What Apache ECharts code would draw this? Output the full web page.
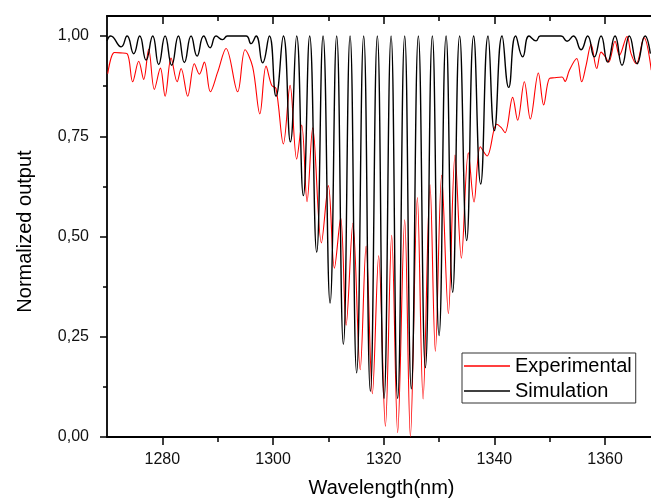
<!DOCTYPE html>
<html>
<head>
<meta charset="utf-8">
<script src="https://cdn.jsdelivr.net/npm/echarts@6/dist/echarts.min.js"></script>
<style>
html, body { margin: 0; padding: 0; background: #fff; }
#chart { width: 651px; height: 503px; }
</style>
</head>
<body>
<div id="chart"></div>
<script>
// wavelength (nm), normalized output (turning points)
var simulation = [
    [1270.00, .988], [1270.67, 1.0], [1272.55, .973], [1273.63, 1.0], [1274.82, .956], [1275.91, 1.0],
    [1277.06, .940], [1278.26, 1.0], [1279.34, .929], [1280.50, 1.0], [1281.69, .927], [1282.90, 1.0],
    [1283.98, .934], [1285.19, 1.0], [1286.28, .950], [1287.47, 1.0], [1288.63, .971], [1289.71, 1.0],
    [1290.90, .991], [1291.75, 1.0], [1295.13, 1.0], [1296.03, .981], [1296.94, 1.0], [1298.13, .933],
    [1299.34, 1.0], [1300.55, .850], [1301.87, 1.0], [1303.14, .736], [1304.27, 1.0], [1305.48, .602],
    [1306.62, 1.0], [1307.89, .461], [1309.04, 1.0], [1310.31, .334], [1311.50, 1.0], [1312.71, .231],
    [1313.92, 1.0], [1315.11, .160], [1316.38, 1.0], [1317.59, .114], [1318.85, 1.0], [1320.06, .096],
    [1321.33, 1.0], [1322.52, .096], [1323.79, 1.0], [1324.99, .120], [1326.26, 1.0], [1327.53, .173],
    [1328.79, 1.0], [1330.00, .253], [1331.27, 1.0], [1332.46, .361], [1333.72, 1.0], [1334.99, .490],
    [1336.25, 1.0], [1337.52, .631], [1338.85, 1.0], [1339.99, .764], [1341.38, 1.0], [1342.58, .872],
    [1343.84, 1.0], [1345.11, .948], [1346.26, 1.0], [1347.52, .988], [1348.30, 1.0], [1352.04, 1.0],
    [1353.13, .987], [1354.27, 1.0], [1355.66, .966], [1356.85, 1.0], [1358.06, .948], [1359.27, 1.0],
    [1360.46, .935], [1361.80, 1.0], [1363.06, .927], [1364.38, 1.0], [1365.77, .931], [1367.22, 1.0],
    [1368.18, .956]
];

var experimental = [
    [1270.13, .906], [1271.34, .959], [1272.42, .958], [1273.63, .956], [1274.64, .886], [1275.73, .937],
    [1276.63, .892], [1277.53, .967], [1278.56, .867], [1279.65, .920], [1280.50, .850], [1281.58, .945],
    [1282.67, .886], [1283.39, .919], [1284.58, .850], [1285.79, .931], [1286.69, .905], [1287.60, .935],
    [1288.68, .861], [1290.00, .910], [1291.52, .969], [1293.61, .861], [1294.95, .966], [1296.32, .923],
    [1297.62, .806], [1298.74, .925], [1299.76, .877], [1300.55, .869], [1301.87, .731], [1303.08, .877],
    [1304.27, .693], [1305.18, .778], [1306.15, .587], [1307.17, .771], [1308.74, .484], [1310.00, .627],
    [1311.09, .421], [1312.22, .547], [1313.21, .279], [1314.43, .533], [1315.75, .168], [1316.81, .476],
    [1317.95, .108], [1319.09, .452], [1320.30, .027], [1321.44, .503], [1322.52, .011], [1323.79, .542],
    [1324.82, .001], [1326.08, .597], [1327.11, .095], [1328.37, .629], [1329.33, .214], [1330.47, .653],
    [1331.68, .308], [1332.89, .703], [1334.03, .446], [1335.29, .709], [1336.32, .586], [1337.46, .724],
    [1338.67, .701], [1340.41, .780], [1341.20, .772], [1341.92, .759], [1343.30, .847], [1344.20, .790],
    [1345.41, .886], [1346.49, .793], [1347.94, .908], [1348.90, .828], [1349.93, .894], [1350.83, .896],
    [1352.22, .898], [1352.77, .887], [1353.55, .915], [1354.87, .944], [1355.77, .886], [1356.57, .927],
    [1357.47, .979], [1358.49, .919], [1359.28, .960], [1360.05, .948], [1360.65, .935], [1361.80, .987],
    [1362.58, .952], [1363.97, .999], [1364.69, .956], [1365.64, .931], [1367.03, .996], [1368.35, .915]
];

var xMajor = [1280, 1300, 1320, 1340, 1360];
var xMinor = [1290, 1310, 1330, 1350];
var yMajor = [0, 0.25, 0.5, 0.75, 1];
var yMinor = [0.125, 0.375, 0.625, 0.875];

var FONT = '"Liberation Sans", Arial, sans-serif';
var X_MIN = 1270, X_MAX = 1369.2, Y_MIN = 0, Y_MAX = 1.05;

var myChart = echarts.init(document.getElementById('chart'), null, {renderer: 'canvas'});

function xAx(pos, ticks, len, inside, main) {
    return {
        type: 'value', position: pos, min: X_MIN, max: X_MAX,
        axisLine: {show: main, onZero: false, lineStyle: {color: '#000', width: 1.8}},
        axisTick: {show: true, customValues: ticks, length: len, inside: inside,
            lineStyle: {color: '#000', width: 1.5}},
        axisLabel: {show: main && pos === 'bottom', customValues: ticks, margin: 15,
            color: '#111', fontSize: 16, fontFamily: FONT,
            formatter: function (v) { return String(v); }},
        splitLine: {show: false},
        name: main && pos === 'bottom' ? 'Wavelength(nm)' : '',
        nameLocation: 'middle', nameGap: 41,
        nameTextStyle: {color: '#000', fontSize: 20, fontFamily: FONT}
    };
}

function yAx(ticks, len, main) {
    return {
        type: 'value', position: 'left', min: Y_MIN, max: Y_MAX,
        axisLine: {show: main, onZero: false, lineStyle: {color: '#000', width: 1.8}},
        axisTick: {show: true, customValues: ticks, length: len, inside: false,
            lineStyle: {color: '#000', width: 1.5}},
        axisLabel: {show: main, customValues: ticks, margin: 18, color: '#111', fontSize: 16,
            fontFamily: FONT,
            formatter: function (v) { return v.toFixed(2).replace('.', ','); }},
        splitLine: {show: false},
        name: main ? 'Normalized output' : '',
        nameLocation: 'middle', nameGap: 72,
        nameTextStyle: {color: '#000', fontSize: 20, fontFamily: FONT, padding: [0, 10, 0, 0]}
    };
}

var option = {
    backgroundColor: '#fff',
    animation: false,
    grid: {left: 107, top: 16, right: -5, bottom: 66, outerBoundsMode: 'none'},
    legend: {
        orient: 'vertical', left: 462, top: 353,
        icon: 'rect', itemWidth: 46, itemHeight: 1.3, itemGap: 5,
        padding: [3, 4, 2, 2],
        borderColor: '#333', borderWidth: 1,
        textStyle: {color: '#000', fontSize: 20, fontFamily: FONT},
        data: ['Experimental', 'Simulation']
    },
    xAxis: [
        xAx('bottom', xMajor, 8, false, true),
        xAx('bottom', xMinor, 5, false, false),
        xAx('top', xMajor, 8, true, true),
        xAx('top', xMinor, 5, true, false)
    ],
    yAxis: [
        yAx(yMajor, 7, true),
        yAx(yMinor, 4, false)
    ],
    series: [
        {
            name: 'Experimental', type: 'line', xAxisIndex: 0, yAxisIndex: 0,
            data: experimental, smooth: 0.35, symbol: 'none', showSymbol: false,
            lineStyle: {color: '#ff0000', width: 1.1}, itemStyle: {color: '#ff0000'}
        },
        {
            name: 'Simulation', type: 'line', xAxisIndex: 0, yAxisIndex: 0,
            data: simulation, smooth: 0.5, symbol: 'none', showSymbol: false,
            lineStyle: {color: '#000', width: 1.4}, itemStyle: {color: '#000'}
        }
    ]
};

myChart.setOption(option);
</script>
</body>
</html>
